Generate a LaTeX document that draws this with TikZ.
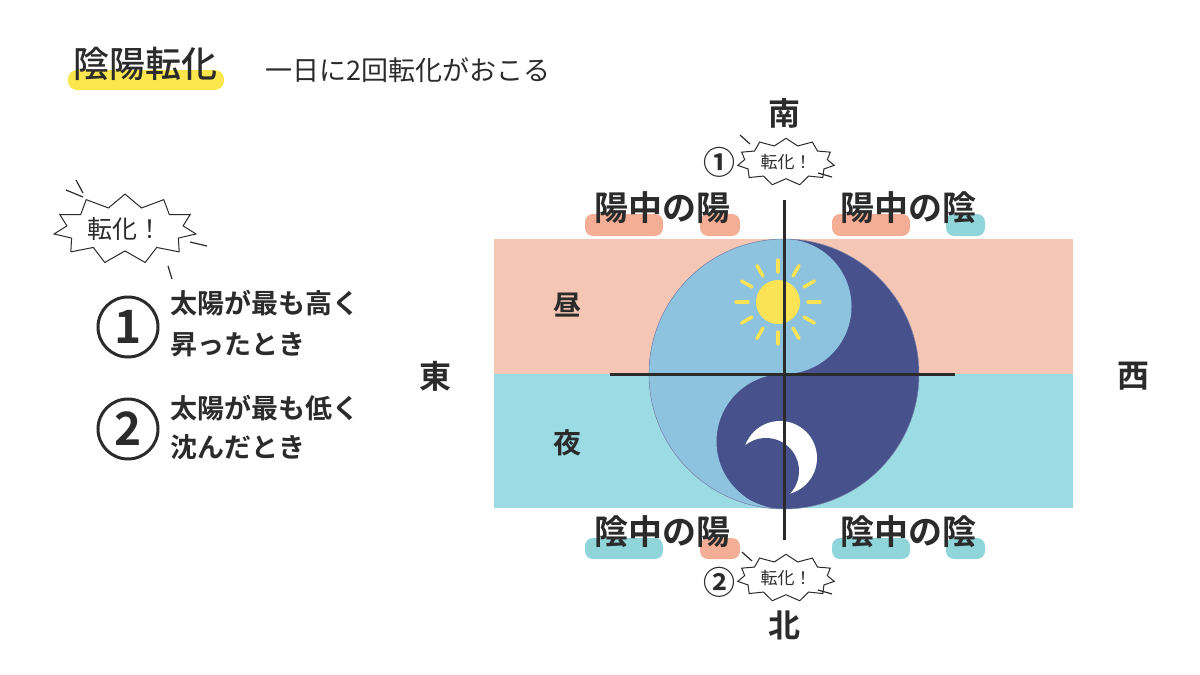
\documentclass[tikz,border=0pt]{standalone}
\usepackage{fontspec}
\setmainfont{Noto Sans CJK JP}
\newfontfamily\jpb{Noto Sans CJK JP Bold}
\newfontfamily\jpm{Noto Sans CJK JP Medium}
\usetikzlibrary{shapes.symbols,calc}
\definecolor{bandpink}{HTML}{F5C6B3}
\definecolor{bandcyan}{HTML}{9BDCE4}
\definecolor{lightb}{HTML}{8DC3DF}
\definecolor{darkb}{HTML}{47518B}
\definecolor{pillsal}{HTML}{F3AE95}
\definecolor{pillcy}{HTML}{8FD5DA}
\definecolor{sunY}{HTML}{FBE356}
\definecolor{ink}{HTML}{2B2B2B}
\tikzset{
  lab/.style={font=\jpb\fontsize{34}{34}\selectfont, text=ink, inner sep=0},
  dir/.style={font=\jpb\fontsize{32}{32}\selectfont, text=ink, inner sep=0},
  item/.style={font=\jpb\fontsize{27}{27}\selectfont, text=ink, inner sep=0, anchor=west},
  pill/.style={rounded corners=8pt},
  burst/.style={starburst, starburst points=11, starburst point height=#1, random starburst=0, draw=ink, fill=white, line width=1pt, inner sep=4pt, font=\fontsize{17}{17}\selectfont, text=ink},
  tick/.style={draw=ink, line width=1.2pt},
  axis/.style={draw=ink, line width=3pt},
  bignum/.style={circle, draw=ink, line width=3pt, minimum size=60pt, inner sep=0, font=\jpb\fontsize{46}{46}\selectfont, text=ink}
}
\begin{document}
\begin{tikzpicture}[x=1pt,y=-1pt]
\useasboundingbox (0,0) rectangle (1200,675);
% title
\fill[sunY!90!yellow, rounded corners=9pt] (68,70) rectangle (224,90);
\node[font=\jpm\fontsize{36}{36}\selectfont, text=ink, anchor=west, inner sep=0] (title) at (73,64) {陰陽転化};
\node[font=\fontsize{27}{27}\selectfont, text=ink, anchor=west, inner sep=0] (sub) at (265,70) {一日に2回転化がおこる};
% bands
\fill[bandpink] (494,239) rectangle (1073,374);
\fill[bandcyan] (494,374) rectangle (1073,508);
% yin yang
\fill[darkb] (784,374) circle (135);
\fill[lightb] (784,239) arc (270:90:135) arc (90:270:67.5) arc (90:-90:67.5) -- cycle;
\draw[darkb!70, line width=0.5pt] (784,374) circle (135);
% sun
\fill[sunY] (778,302) circle (22);
\foreach \a in {0,30,...,330}
  \draw[sunY, line width=3.5pt, line cap=round] ($(778,302)+(\a:30)$) -- ($(778,302)+(\a:42)$);
% moon
\fill[white] (780,458) circle (37);
\fill[darkb] (766,471) circle (33);
% axes
\draw[axis] (610,374) -- (955,374);
\draw[axis] (784,200) -- (784,540);
% day / night
\node[lab, font=\jpb\fontsize{28}{28}\selectfont] (hiru) at (567,305) {昼};
\node[lab, font=\jpb\fontsize{28}{28}\selectfont] (yoru) at (567,443) {夜};
% directions
\node[dir] (S) at (784,113) {南};
\node[dir] (N) at (784,625) {北};
\node[dir] (E) at (435,376) {東};
\node[dir] (W) at (1133,376) {西};
% pills top
\fill[pillsal, pill] (585,214) rectangle (663,236);
\fill[pillsal, pill] (700,214) rectangle (740,236);
\fill[pillsal, pill] (832,214) rectangle (910,236);
\fill[pillcy, pill] (946,214) rectangle (985,236);
% pills bottom
\fill[pillcy, pill] (585,538) rectangle (663,559);
\fill[pillsal, pill] (700,538) rectangle (740,559);
\fill[pillcy, pill] (832,538) rectangle (910,559);
\fill[pillcy, pill] (946,538) rectangle (985,559);
\node[lab] (yy) at (662,208) {陽中の陽};
\node[lab] (yi) at (908,208) {陽中の陰};
\node[lab] (iy) at (662,532) {陰中の陽};
\node[lab] (ii) at (908,532) {陰中の陰};
% bursts on axis
\node[font=\jpb\fontsize{32}{32}\selectfont, text=ink, inner sep=0] (c1) at (719,162) {①};
\node[burst=7pt] (b1) at (786,162) {転化！};
\draw[tick] (740,135) -- (750,144); \draw[tick] (818,173) -- (832,177);
\node[font=\jpb\fontsize{32}{32}\selectfont, text=ink, inner sep=0] (c2) at (719,582) {②};
\node[burst=7pt] (b2) at (786,578) {転化！};
\draw[tick] (742,552) -- (752,561); \draw[tick] (818,590) -- (832,594);
% left burst
\node[burst=13pt, font=\fontsize{25}{25}\selectfont] (b0) at (125,229) {転化！};
\draw[tick] (66,190) -- (83,197); \draw[tick] (76,180) -- (83,193);
\draw[tick] (190,242) -- (207,246); \draw[tick] (168,266) -- (172,279);
% left list
\node[bignum] (n1) at (128,327) {1};
\node[item] (t1a) at (170,303) {太陽が最も高く};
\node[item] (t1b) at (170,345) {昇ったとき};
\node[bignum] (n2) at (128,429) {2};
\node[item] (t2a) at (170,408) {太陽が最も低く};
\node[item] (t2b) at (170,447) {沈んだとき};
\end{tikzpicture}
\end{document}
